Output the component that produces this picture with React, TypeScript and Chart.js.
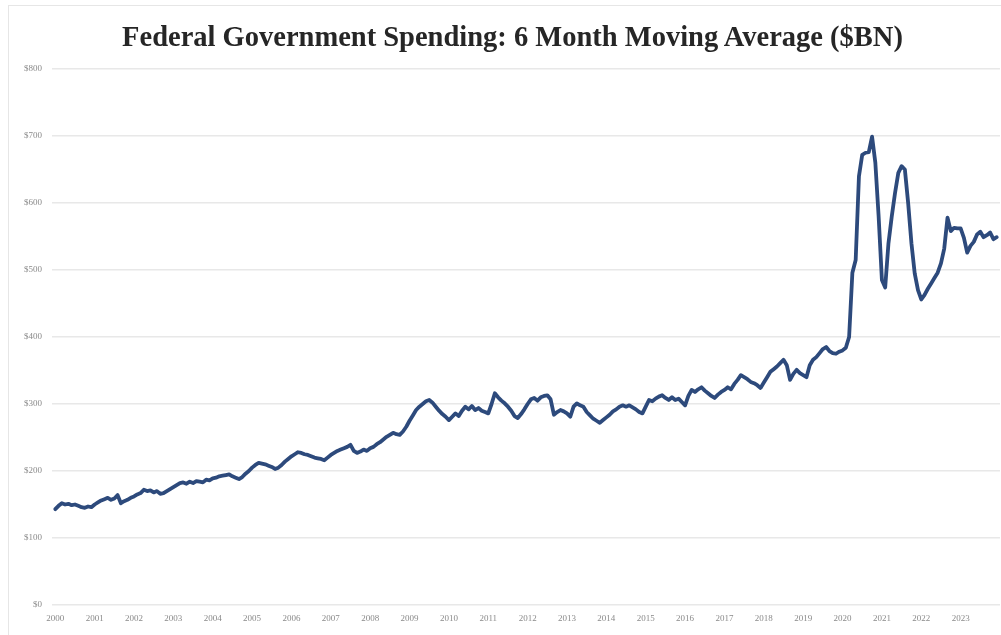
import React, { useEffect, useRef } from "react";
import { Chart, registerables } from "chart.js";

Chart.register(...registerables);

const TITLE = "Federal Government Spending: 6 Month Moving Average ($BN)";
const START_YEAR = 2000;
const yearLabels = [
  "2000", "2001", "2002", "2003", "2004", "2005", "2006", "2007", "2008", "2009", "2010", "2011",
  "2012", "2013", "2014", "2015", "2016", "2017", "2018", "2019", "2020", "2021", "2022", "2023",
];
const yTicks = [0, 100, 200, 300, 400, 500, 600, 700, 800];

// Monthly 6-month moving average of federal spending ($BN), Jan 2000 – Dec 2023
const spending2000to2005 = [
  143, 148, 152, 150, 151, 149, 150, 148, 146, 145, 147, 146,
  150, 153, 156, 158, 160, 157, 159, 164, 152, 155, 157, 160,
  162, 165, 167, 172, 170, 171, 168, 170, 166, 167, 170, 173,
  176, 179, 182, 183, 181, 184, 182, 185, 184, 183, 187, 186,
  189, 190, 192, 193, 194, 195, 192, 190, 188, 191, 196, 200,
  205, 209, 212, 211, 210, 208, 206, 203, 205, 209, 214, 218,
];
const spending2006to2011 = [
  222, 225, 228, 227, 225, 224, 222, 220, 219, 218, 216, 220,
  224, 227, 230, 232, 234, 236, 239, 230, 227, 229, 232, 230,
  234, 236, 240, 243, 247, 251, 254, 257, 255, 254, 259, 266,
  275, 283, 291, 296, 300, 304, 306, 302, 296, 290, 285, 281,
  276, 281, 286, 282, 290, 296, 292, 297, 291, 294, 290, 288,
  286, 300, 316, 310, 305, 301, 296, 290, 282, 279, 285, 292,
];
const spending2012to2017 = [
  300, 307, 309, 305, 310, 312, 313, 307, 284, 288, 291, 289,
  286, 281, 296, 301, 298, 296, 288, 283, 278, 275, 272, 276,
  280, 284, 289, 292, 296, 298, 296, 298, 295, 292, 288, 286,
  296, 306, 304, 308, 311, 313, 309, 306, 310, 306, 308, 303,
  298, 312, 321, 318, 322, 325, 320, 316, 312, 309, 314, 318,
  321, 325, 322, 330, 336, 343, 340, 337, 333, 331, 328, 324,
];
const spending2018to2023 = [
  332, 340, 348, 352, 356, 361, 366, 358, 336, 345, 351, 346,
  343, 340, 358, 366, 370, 376, 382, 385, 379, 376, 375, 378,
  380, 384, 400, 496, 515, 640, 672, 675, 676, 699, 660, 580,
  485, 474, 540, 580, 615, 645, 655, 650, 600, 540, 495, 470,
  456, 463, 472, 480, 488, 496, 510, 532, 578, 558, 563, 562,
  562, 548, 526, 536, 542, 553, 557, 549, 552, 556, 546, 549,
];

const spending = [
  ...spending2000to2005,
  ...spending2006to2011,
  ...spending2012to2017,
  ...spending2018to2023,
];

export default function App() {
  const canvasRef = useRef<HTMLCanvasElement | null>(null);

  useEffect(() => {
    if (!canvasRef.current) return;
    const tickFont = { family: "'Liberation Serif', 'DejaVu Serif', serif", size: 9 };
    const chart = new Chart(canvasRef.current, {
      type: "line",
      data: {
        datasets: [
          {
            label: "Spending",
            data: spending.map((v, i) => ({ x: i, y: v })),
            borderColor: "#2d4a7c",
            borderWidth: 3.8,
            pointRadius: 0,
            tension: 0,
            fill: false,
            borderJoinStyle: "round",
            borderCapStyle: "round",
          },
        ],
      },
      options: {
        responsive: false,
        animation: false,
        layout: { padding: { top: 69, right: 1, bottom: 0, left: 0 } },
        plugins: {
          legend: { display: false },
          tooltip: { enabled: false },
          title: { display: false },
        },
        scales: {
          x: {
            type: "linear",
            min: -1,
            max: 288,
            grid: { display: false, drawTicks: false },
            border: { display: false },
            afterBuildTicks: (scale: any) => {
              scale.ticks = yearLabels.map((_, i) => ({ value: i * 12 }));
            },
            afterFit: (scale: any) => {
              scale.height = 30;
            },
            ticks: {
              autoSkip: false,
              maxRotation: 0,
              padding: 8,
              color: "#8a8a8a",
              font: tickFont,
              callback: (value: any) => {
                const idx = Math.round(Number(value) / 12);
                return yearLabels[idx] ?? String(START_YEAR + idx);
              },
            },
          },
          y: {
            min: 0,
            max: 800,
            afterBuildTicks: (scale: any) => {
              scale.ticks = yTicks.map((v) => ({ value: v }));
            },
            afterFit: (scale: any) => {
              scale.width = 52;
            },
            grid: { color: "#e8e8e8", lineWidth: 1.6, drawTicks: false },
            border: { display: false },
            ticks: {
              padding: 10,
              color: "#8a8a8a",
              font: tickFont,
              callback: (value: any) => "$" + value,
            },
          },
        },
      },
    });
    return () => chart.destroy();
  }, []);

  return (
    <div
      style={{
        position: "absolute",
        top: 0,
        left: 0,
        width: 1001,
        height: 635,
        overflow: "hidden",
        background: "#ffffff",
      }}
    >
      <div
        style={{
          position: "absolute",
          top: 5,
          left: 8,
          width: 1100,
          height: 700,
          border: "1px solid #e6e6e6",
        }}
      />
      <canvas ref={canvasRef} width={1001} height={635} style={{ position: "absolute", top: 0, left: 0 }} />
      <div
        style={{
          position: "absolute",
          top: 21,
          left: 24,
          right: 0,
          textAlign: "center",
          fontFamily: "'Liberation Serif', 'DejaVu Serif', serif",
          fontWeight: "bold",
          fontSize: 28.5,
          color: "#262626",
          whiteSpace: "nowrap",
        }}
      >
        {TITLE}
      </div>
    </div>
  );
}
